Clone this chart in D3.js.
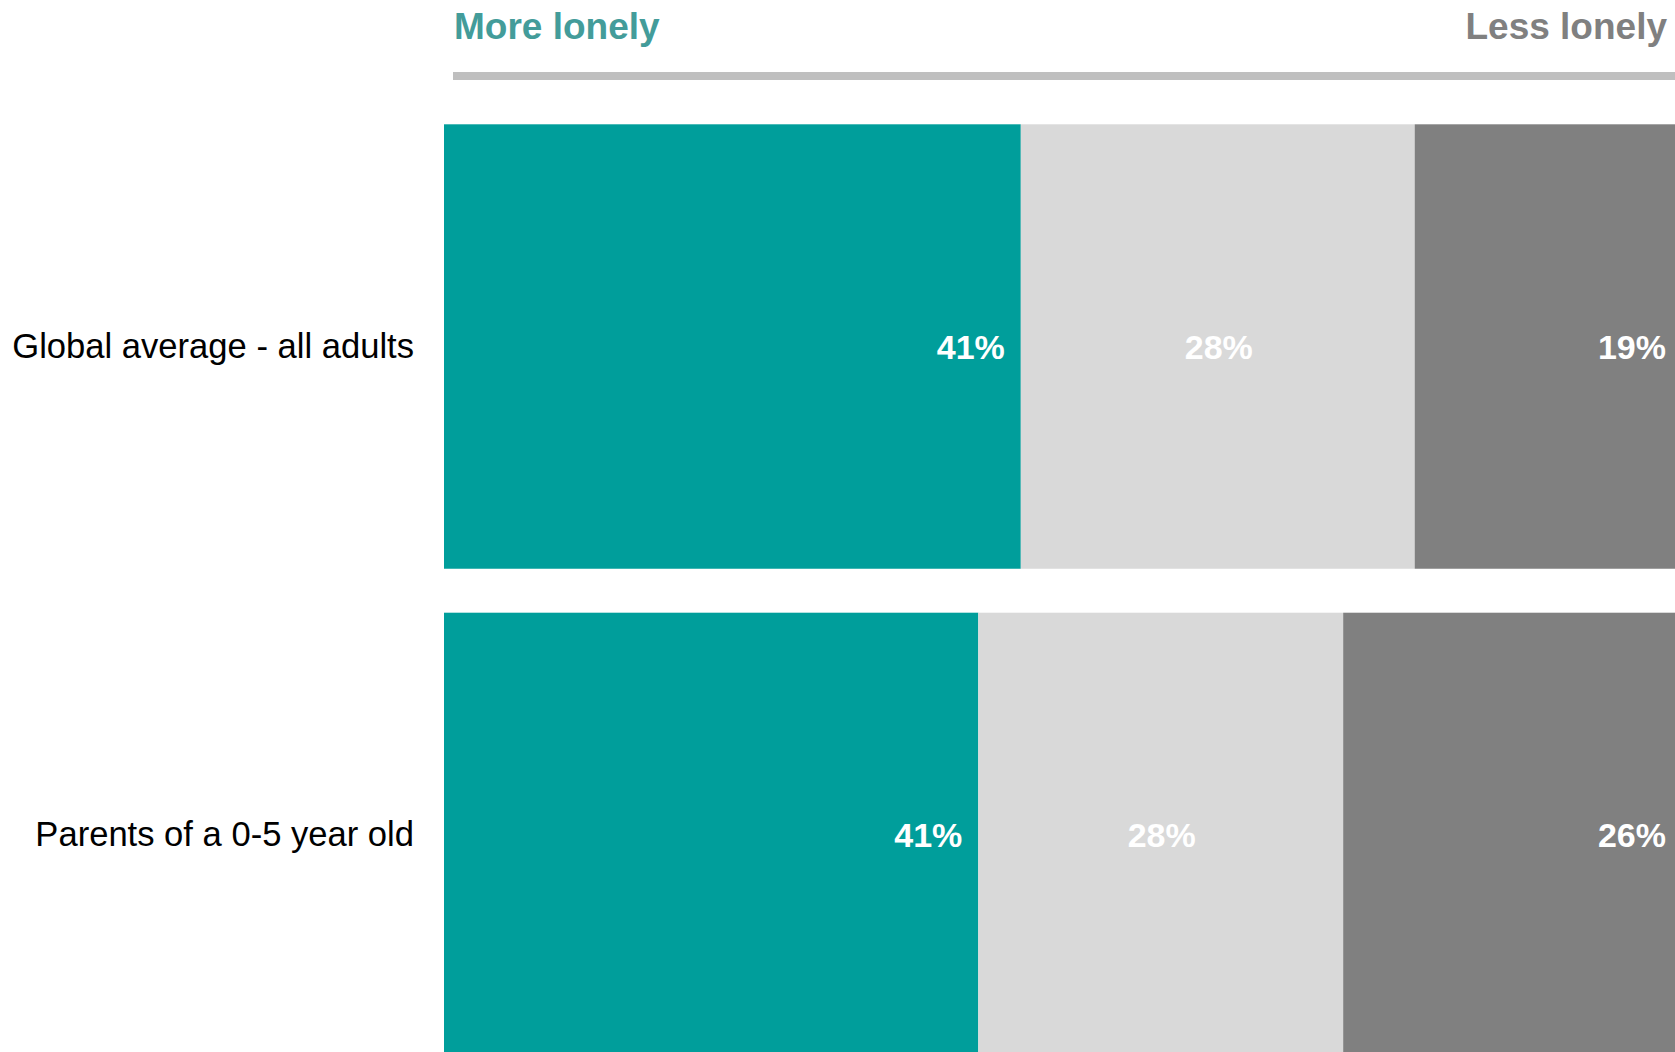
<!DOCTYPE html>
<html>
<head>
<meta charset="utf-8">
<script src="https://cdn.jsdelivr.net/npm/d3@7"></script>
<style>
    body { margin: 0; background: #ffffff; overflow: hidden; }
    text { font-family: "Liberation Sans", Arial, sans-serif; }
</style>
</head>
<body>
<div id="chart"></div>
<script>
// Data
const categories = ["Global average - all adults", "Parents of a 0-5 year old"];
const moreLonely = [41, 41];
const same = [28, 28];
const lessLonely = [19, 26];
const seriesKeys = ["more", "same", "less"];
const headerLabels = ["More lonely", "Less lonely"];

// rows built from the arrays
const data = categories.map((c, i) => ({
    category: c,
    more: moreLonely[i],
    same: same[i],
    less: lessLonely[i]
}));

// Dimensions
const width = 1675;
const height = 1052;
const margin = { left: 444, right: -7 };

const svg = d3.select("#chart")
    .append("svg")
    .attr("width", width)
    .attr("height", height);

// each row is normalised to its own total
const stack = d3.stack()
    .keys(seriesKeys)
    .offset(d3.stackOffsetExpand);
const stacked = stack(data);

const xScale = d3.scaleLinear()
    .domain([0, 1])
    .range([margin.left, width - margin.right]);

const step = 488.4;
const pad = 0.09;
const yScale = d3.scaleBand()
    .domain(categories)
    .range([124.3, 124.3 + step * (2 - pad)])
    .paddingInner(pad)
    .paddingOuter(0);

const colorScale = d3.scaleOrdinal()
    .domain(seriesKeys)
    .range(["#009e9b", "#d9d9d9", "#808080"]);

// Header
svg.append("rect")
    .attr("x", 453)
    .attr("y", 72)
    .attr("width", width - 453)
    .attr("height", 8)
    .attr("fill", "#bfbfbf");

svg.append("text")
    .attr("x", 454)
    .attr("y", 39)
    .style("font-size", "37px")
    .style("font-weight", "bold")
    .attr("fill", "#439c9a")
    .text(headerLabels[0]);

svg.append("text")
    .attr("x", 1667)
    .attr("y", 39)
    .attr("text-anchor", "end")
    .style("font-size", "37px")
    .style("font-weight", "bold")
    .attr("fill", "#808080")
    .text(headerLabels[1]);

// Bars
const layers = svg.selectAll(".layer")
    .data(stacked)
    .enter().append("g")
    .attr("class", "layer")
    .attr("fill", d => colorScale(d.key));

layers.selectAll("rect")
    .data(d => d)
    .enter().append("rect")
    .attr("x", d => xScale(d[0]))
    .attr("y", d => yScale(d.data.category))
    .attr("width", d => xScale(d[1]) - xScale(d[0]))
    .attr("height", yScale.bandwidth());

// Value labels
layers.each(function(layer) {
    const key = layer.key;
    d3.select(this).selectAll(".bar-number")
        .data(layer)
        .enter().append("text")
        .attr("class", "bar-number")
        .attr("x", d => key === "same"
            ? (xScale(d[0]) + xScale(d[1])) / 2 + 1
            : xScale(d[1]) - 16)
        .attr("y", d => yScale(d.data.category) + yScale.bandwidth() / 2 + 12)
        .attr("text-anchor", key === "same" ? "middle" : "end")
        .attr("fill", "#ffffff")
        .style("font-size", "34px")
        .style("font-weight", "bold")
        .text(d => d.data[key] + "%");
});

// Category labels
svg.selectAll(".cat-label")
    .data(categories)
    .enter().append("text")
    .attr("class", "cat-label")
    .attr("x", 414)
    .attr("y", d => yScale(d) + yScale.bandwidth() / 2 + 11)
    .attr("text-anchor", "end")
    .attr("fill", "#000000")
    .style("font-size", "34.6px")
    .text(d => d);
</script>
</body>
</html>
